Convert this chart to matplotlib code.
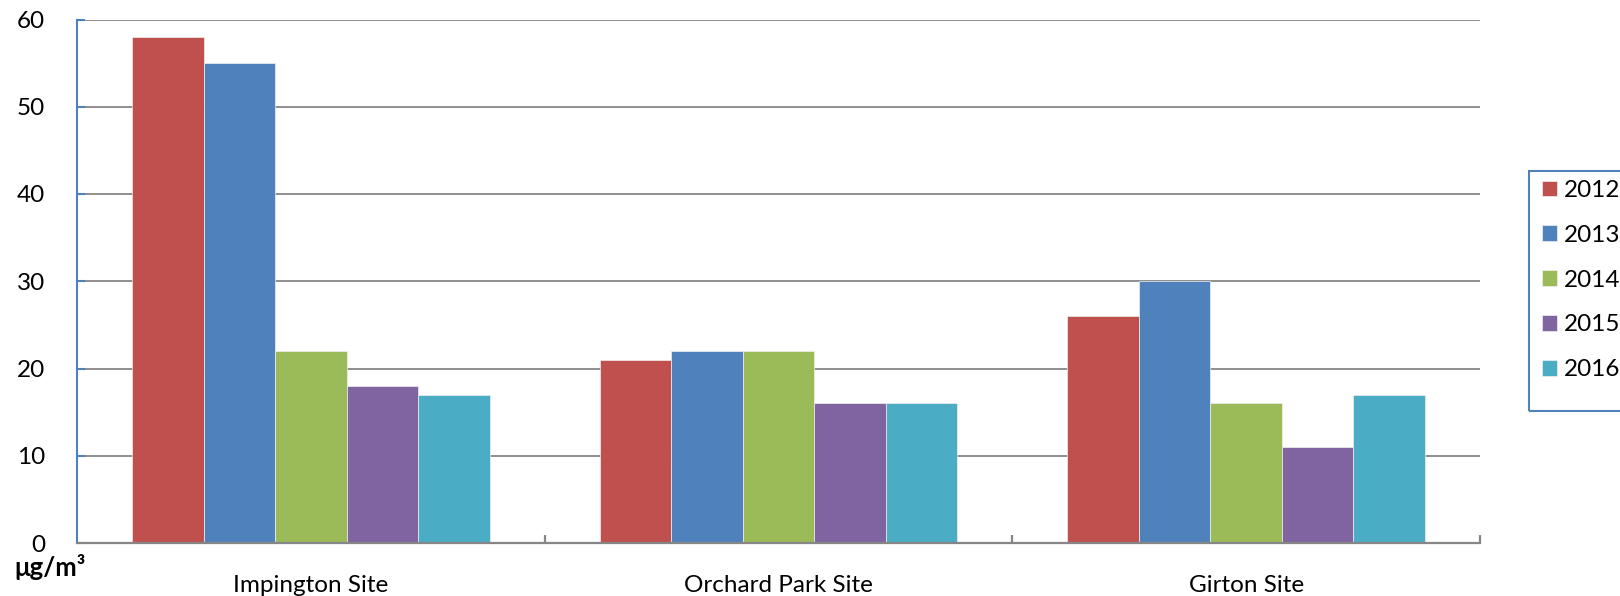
import numpy as np
import matplotlib.pyplot as plt
from matplotlib.patches import Rectangle

plt.rcParams['font.family'] = ['Lato', 'DejaVu Sans']

sites = ['Impington Site', 'Orchard Park Site', 'Girton Site']
years = ['2012', '2013', '2014', '2015', '2016']
vals_2012 = [58, 21, 26]
vals_2013 = [55, 22, 30]
vals_2014 = [22, 22, 16]
vals_2015 = [18, 16, 11]
vals_2016 = [17, 16, 17]
series = [vals_2012, vals_2013, vals_2014, vals_2015, vals_2016]
colours = ['#C0504D', '#4F81BD', '#9BBB59', '#8064A2', '#4BACC6']

W, H = 1620, 596
fig = plt.figure(figsize=(W / 100, H / 100), dpi=100)
ax = fig.add_axes([77 / W, 1 - 543 / H, (1480 - 77) / W, (543 - 19.5) / H])

x = np.arange(len(sites))
w = 0.153
for j, (vals, c, yr) in enumerate(zip(series, colours, years)):
    ax.bar(x + (j - 2) * w, vals, width=w, color=c, edgecolor='#f0f0f0',
           linewidth=0.5, label=yr, zorder=3)

ax.set_xlim(-0.5, 2.5)
ax.set_ylim(0, 60)
ax.set_yticks(range(0, 61, 10))
ax.grid(axis='y', color='#868686', linewidth=1.3, zorder=0)
ax.set_axisbelow(True)

for s in ['top', 'right']:
    ax.spines[s].set_visible(False)
ax.spines['left'].set_color('#4F81BD')
ax.spines['left'].set_linewidth(1.5)
ax.spines['left'].set_zorder(4)
ax.spines['bottom'].set_color('#868686')
ax.spines['bottom'].set_linewidth(1.6)
ax.spines['bottom'].set_zorder(4)

ax.tick_params(axis='y', direction='in', length=6, width=1.5, color='#4F81BD',
               labelsize=17.5, pad=23)
ax.set_xticks(x)
ax.set_xticklabels(sites)
ax.tick_params(axis='x', which='major', length=0, labelsize=17.5, pad=23)
ax.set_xticks([0.5, 1.5, 2.5], minor=True)
ax.tick_params(axis='x', which='minor', direction='in', length=6, width=1.6,
               color='#868686')

fig.text(14 / W, 1 - 576 / H, 'μg/m³', fontsize=18.5, fontweight='bold',
         ha='left', va='baseline')

# legend with its own frame running off the right edge
fig.legend(loc='upper left', bbox_to_anchor=(1542 / W, 1 - 180 / H),
           frameon=False, fontsize=17.5, borderpad=0, borderaxespad=0,
           handlelength=0.62, handleheight=0.62, handletextpad=0.3,
           labelspacing=0.98)
fig.add_artist(Rectangle((1529 / W, 1 - 411 / H), 0.2, 240 / H,
                         transform=fig.transFigure, facecolor='none',
                         edgecolor='#4F81BD', linewidth=1.5, clip_on=False))

fig.savefig('out.png', dpi=100)
